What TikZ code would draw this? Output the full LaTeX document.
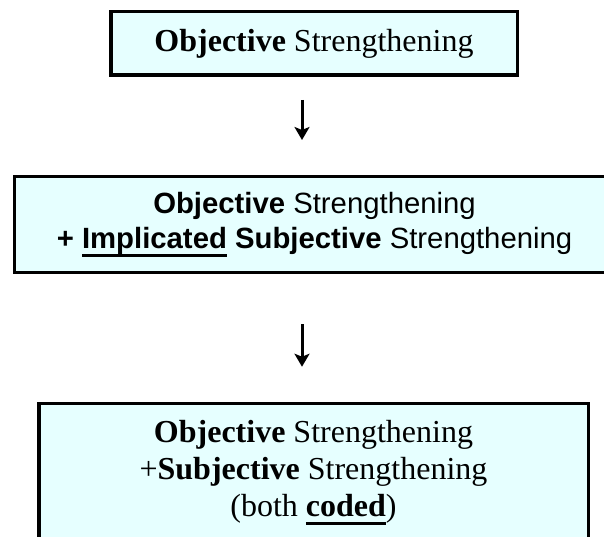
\documentclass[tikz,border=0pt]{standalone}
\usepackage{fontspec}
\setmainfont{Liberation Serif}
\newfontfamily\arialfont{Liberation Sans}
\usepackage{xcolor}
\usetikzlibrary{arrows.meta}
\definecolor{paleCyan}{HTML}{E6FFFF}
\newcommand\thickul[1]{\setbox0\hbox{#1}\leavevmode\rlap{\vrule width\wd0 height -6pt depth 9pt}\box0\relax}

\begin{document}
\begin{tikzpicture}[x=1pt,y=-1pt]
\tikzset{StepBox/.style={draw, fill=paleCyan, line width=3.5pt, align=center, inner sep=0pt, font=\fontsize{32}{37}\selectfont}}
\tikzset{StepArrow/.style={line width=3pt, -{Stealth[length=13pt,width=15pt,inset=3pt]}}}
\useasboundingbox (0,0) rectangle (604,537);
\coordinate (axis) at (302,0);
\node[StepBox, minimum width=406.5pt, minimum height=63.5pt] (obj) at (314,43.5)
  {\textbf{Objective} Strengthening};
\node[StepBox, line width=3pt, minimum width=600pt, minimum height=96pt,
  font=\arialfont\fontsize{29.3}{35}\selectfont] (impl) at (314.5,224.5)
  {\textbf{Objective} Strengthening\\\textbf{+ \thickul{Implicated} Subjective} Strengthening};
\node[StepBox, anchor=north, minimum width=549.5pt, inner ysep=16.3pt] (coded) at (313.5,401.75)
  {\textbf{Objective} Strengthening\\+\textbf{Subjective} Strengthening\\(both \thickul{\textbf{coded}})\\\mbox{}};
\draw[StepArrow, shorten <=23pt, shorten >=35pt] (obj.south -| axis) -- (impl.north -| axis);
\draw[StepArrow, shorten <=50pt, shorten >=35pt] (impl.south -| axis) -- (coded.north -| axis);
\end{tikzpicture}
\end{document}
